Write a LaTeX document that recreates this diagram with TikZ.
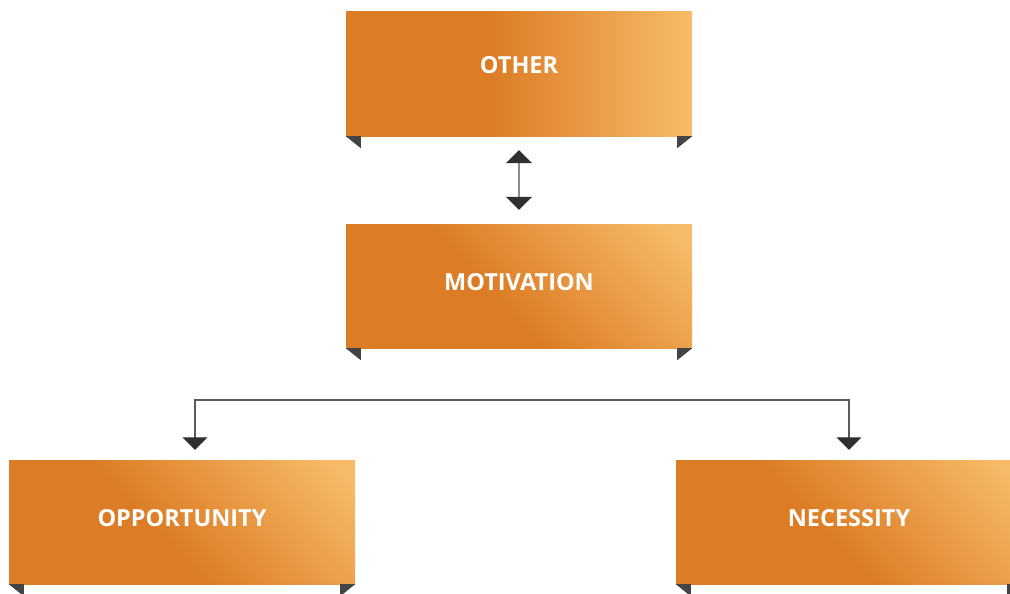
\documentclass[tikz,border=0pt]{standalone}
\usepackage{fontspec}
\setmainfont{Open Sans}
\usetikzlibrary{arrows.meta}
\definecolor{dko}{HTML}{DC7D25}
\definecolor{lto}{HTML}{F7BB67}
\definecolor{tipc}{HTML}{2F2F2F}
\definecolor{cornc}{HTML}{444444}
\pgfdeclarehorizontalshading{hshade}{100bp}{color(0bp)=(dko); color(46bp)=(dko); color(75bp)=(lto); color(100bp)=(lto)}
\pgfdeclarehorizontalshading{dshade}{100bp}{color(0bp)=(dko); color(45bp)=(dko); color(82bp)=(lto); color(100bp)=(lto)}
\tikzset{
  box/.style={minimum width=346pt, minimum height=124pt, inner sep=0pt,
    text=white, font=\fontsize{23.5}{28}\selectfont\bfseries},
  hbox/.style={box, shading=hshade, shading angle=0, text depth=18pt},
  dbox/.style={box, shading=dshade, shading angle=43, text depth=9pt},
  corner/.style={fill=cornc},
  dblarrow/.style={draw=black!45, line width=2pt,
    {Triangle[width=26pt,length=13pt,color=tipc]}-{Triangle[width=26pt,length=13pt,color=tipc]},
    shorten <=14pt, shorten >=14pt},
  branch/.style={draw=black!65, line width=1.3pt,
    {Triangle[width=25pt,length=12.5pt,color=tipc]}-{Triangle[width=25pt,length=12.5pt,color=tipc]}}
}
\newcommand{\boxcorners}[1]{%
  \fill[corner] (#1.south west) -- ++(15,0) -- ++(0,12) -- cycle;
  \fill[corner] (#1.south east) -- ++(-15,0) -- ++(0,12) -- cycle;}
\begin{document}
\begin{tikzpicture}[x=1pt,y=-1pt]
\useasboundingbox (0,0) rectangle (1010,594);
\node[hbox] (other) at (519,74) {OTHER};
\node[dbox] (mot) at (519,286) {MOTIVATION};
\node[dbox] (opp) at (182,522) {OPPORTUNITY};
\node[dbox] (nec) at (849,522) {NECESSITY};
\boxcorners{other}
\boxcorners{mot}
\boxcorners{opp}
\boxcorners{nec}
\coordinate (split) at (519,400);
\draw[dblarrow] (other) -- (mot);
\draw[branch] ([xshift=13pt,yshift=10pt]opp.north) -- ([xshift=13pt]opp.north |- split) -- (nec.north |- split) -- ([yshift=10pt]nec.north);
\end{tikzpicture}
\end{document}
